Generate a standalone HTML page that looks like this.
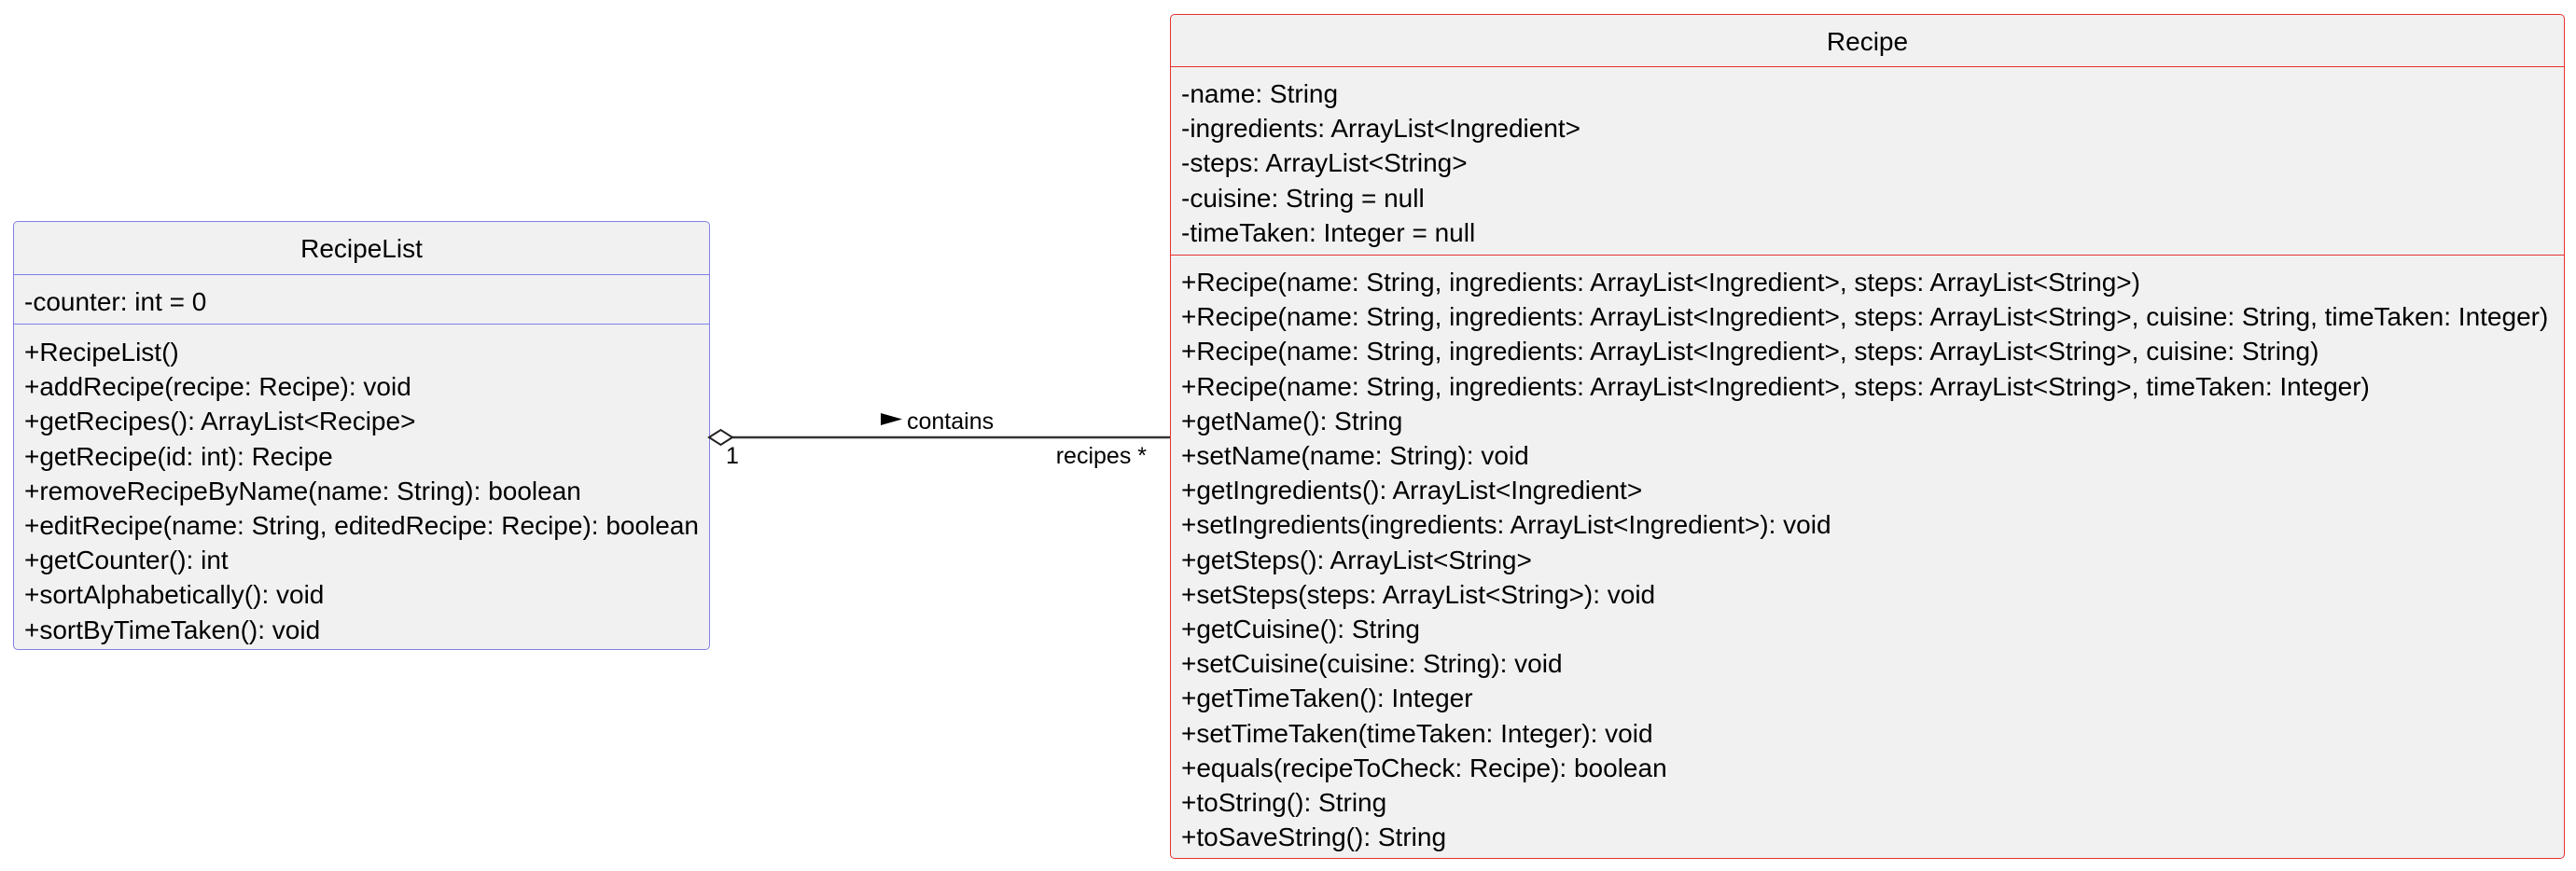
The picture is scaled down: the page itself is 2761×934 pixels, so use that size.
<!DOCTYPE html>
<html><head><meta charset="utf-8"><style>
html,body{margin:0;padding:0;background:#fff;}
body{width:2761px;height:934px;position:relative;overflow:hidden;font-family:"Liberation Sans",Arial,sans-serif;color:#000;}
.box{position:absolute;background:#f1f1f1;border:1.5px solid;border-radius:5px;box-sizing:border-box;}
.t{position:absolute;font-size:28px;white-space:nowrap;line-height:37.2px;}
.sep{position:absolute;left:0;right:0;height:0;border-top:1.5px solid;}
</style></head><body>
<div class="box" style="left:14px;top:237px;width:747px;height:460px;border-color:#8080e8;">
  <div class="t" style="left:0;right:0;text-align:center;top:10px;">RecipeList</div>
  <div class="sep" style="top:56px;border-color:#8080e8;"></div>
  <div class="t" style="left:11px;top:67px;">-counter: int = 0</div>
  <div class="sep" style="top:109px;border-color:#8080e8;"></div>
  <div class="t" style="left:11px;top:121px;">+RecipeList()<br>+addRecipe(recipe: Recipe): void<br>+getRecipes(): ArrayList&lt;Recipe&gt;<br>+getRecipe(id: int): Recipe<br>+removeRecipeByName(name: String): boolean<br>+editRecipe(name: String, editedRecipe: Recipe): boolean<br>+getCounter(): int<br>+sortAlphabetically(): void<br>+sortByTimeTaken(): void</div>
</div>
<div class="box" style="left:1254px;top:15px;width:1495px;height:906px;border-color:#e83030;">
  <div class="t" style="left:0;right:0;text-align:center;top:10px;">Recipe</div>
  <div class="sep" style="top:55px;border-color:#e83030;"></div>
  <div class="t" style="left:11px;top:66px;">-name: String<br>-ingredients: ArrayList&lt;Ingredient&gt;<br>-steps: ArrayList&lt;String&gt;<br>-cuisine: String = null<br>-timeTaken: Integer = null</div>
  <div class="sep" style="top:257px;border-color:#e83030;"></div>
  <div class="t" style="left:11px;top:268px;">+Recipe(name: String, ingredients: ArrayList&lt;Ingredient&gt;, steps: ArrayList&lt;String&gt;)<br>+Recipe(name: String, ingredients: ArrayList&lt;Ingredient&gt;, steps: ArrayList&lt;String&gt;, cuisine: String, timeTaken: Integer)<br>+Recipe(name: String, ingredients: ArrayList&lt;Ingredient&gt;, steps: ArrayList&lt;String&gt;, cuisine: String)<br>+Recipe(name: String, ingredients: ArrayList&lt;Ingredient&gt;, steps: ArrayList&lt;String&gt;, timeTaken: Integer)<br>+getName(): String<br>+setName(name: String): void<br>+getIngredients(): ArrayList&lt;Ingredient&gt;<br>+setIngredients(ingredients: ArrayList&lt;Ingredient&gt;): void<br>+getSteps(): ArrayList&lt;String&gt;<br>+setSteps(steps: ArrayList&lt;String&gt;): void<br>+getCuisine(): String<br>+setCuisine(cuisine: String): void<br>+getTimeTaken(): Integer<br>+setTimeTaken(timeTaken: Integer): void<br>+equals(recipeToCheck: Recipe): boolean<br>+toString(): String<br>+toSaveString(): String</div>
</div>
<svg style="position:absolute;left:0;top:0" width="2761" height="934">
  <line x1="785" y1="469" x2="1254" y2="469" stroke="#333" stroke-width="2.5"/>
  <polygon points="760,469 772.5,461 785,469 772.5,477" fill="#fff" stroke="#222" stroke-width="2"/>
  <polygon points="944,443 967,449.5 944,456" fill="#000"/>
  <text x="972" y="460" font-family="Liberation Sans, Arial, sans-serif" font-size="25">contains</text>
  <text x="778" y="497" font-family="Liberation Sans, Arial, sans-serif" font-size="25">1</text>
  <text x="1229" y="497" text-anchor="end" font-family="Liberation Sans, Arial, sans-serif" font-size="25">recipes *</text>
</svg>
</body></html>
